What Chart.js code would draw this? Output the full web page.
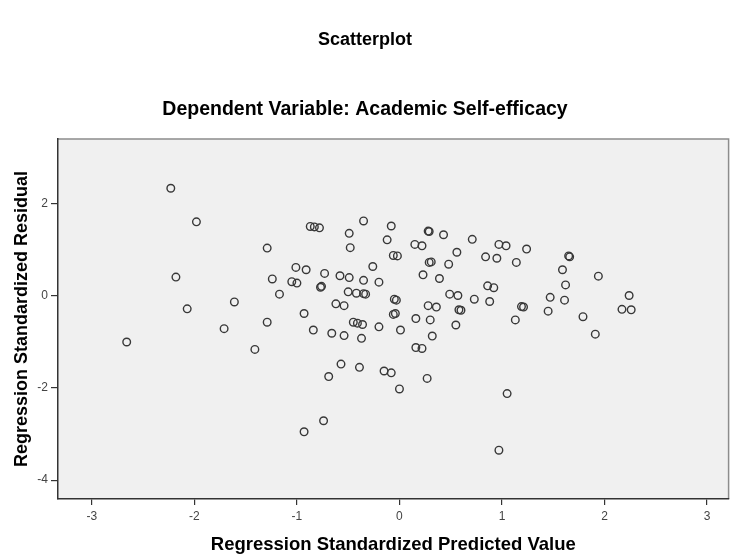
<!DOCTYPE html>
<html>
<head>
<meta charset="utf-8">
<script src="https://cdn.jsdelivr.net/npm/chart.js@4/dist/chart.umd.min.js"></script>
<style>
  html, body { margin: 0; padding: 0; background: #fff; }
  #wrap { width: 734px; height: 556px; }
</style>
</head>
<body>
<div id="wrap"><canvas id="chart1" width="734" height="556"></canvas></div>
<script>
// values
const predicted = [
  -2.23, -1.98, -2.18, -2.07, -1.61, -1.71, -2.66, -1.29, -1.24, -1.17,
  -1.29, -1.41, -1.05, -1.00, -1.01, -0.91, -0.87, -0.83, -0.78, -0.73,
  -0.77, -0.76, -0.93, -0.84, -0.66, -0.54, -0.62, -0.54, -0.58, -0.49,
  -0.35, -0.50, -0.42, -0.33, -0.35, -0.35, -0.49, -0.48, -0.26, -0.45,
  -0.41, -0.36, -0.37, -0.57, -0.39, -0.69, -0.74, -0.93, -0.20, -0.20,
  -0.15, -0.08, 0.00, 0.01, -0.08, -0.12, -0.06, -0.02, -0.03, -0.05,
  -0.06, -0.04, 0.16, 0.30, 0.32, 0.55, 0.16, 0.22, 0.27, 1.05,
  0.97, 0.29, 0.28, 0.43, 0.71, 0.97, 1.04, 0.15, 0.22, 0.56,
  0.84, 0.95, 0.29, 0.31, 0.48, 0.23, 0.39, 0.86, 0.92, 0.49,
  0.57, 0.73, 0.88, 0.28, 0.36, 0.58, 0.60, 1.24, 1.14, 1.65,
  1.66, 1.59, 1.94, 1.62, 1.47, 1.61, 2.24, 2.17, 2.26, 1.19,
  1.21, 1.45, 1.79, 1.13, 1.91
];
const residual = [
  2.34, 1.61, 0.41, -0.28, -0.13, -0.71, -1.00, 1.04, 0.37, 0.04,
  -0.57, -1.16, 0.31, 0.28, 0.62, 0.57, 1.51, 1.50, 1.48, 0.49,
  0.19, 0.21, -0.38, -0.74, -0.81, -0.86, -0.17, -0.21, 0.44, 0.40,
  0.34, 0.09, 0.06, 0.04, 0.05, 1.63, 1.36, 1.05, 0.64, -0.57,
  -0.59, -0.62, -0.92, -1.48, -1.55, -1.75, -2.71, -2.95, 0.30, -0.67,
  -1.63, -1.67, -2.02, -0.74, 1.52, 1.22, 0.88, 0.87, -0.09, -0.07,
  -0.40, -0.38, -0.49, -0.52, -0.87, -0.63, -1.12, -1.14, -1.79, -2.12,
  -3.35, 1.40, 1.41, 1.33, 1.23, 1.12, 1.09, 1.12, 1.09, 0.95,
  0.85, 0.82, 0.73, 0.74, 0.69, 0.46, 0.38, 0.22, 0.18, 0.04,
  0.01, -0.07, -0.12, -0.21, -0.24, -0.30, -0.31, 1.02, 0.73, 0.87,
  0.85, 0.57, 0.43, 0.24, -0.03, -0.09, 0.01, -0.29, -0.30, -0.23,
  -0.24, -0.33, -0.45, -0.52, -0.83
];
const xTicks = [-3, -2, -1, 0, 1, 2, 3];
const yTicks = [-4, -2, 0, 2];

const points = predicted.map((x, i) => ({ x: x, y: residual[i] }));

// grey plot background + light frame on top/right
const plotFrame = {
  id: 'plotFrame',
  beforeDraw(chart) {
    const { ctx, chartArea: a } = chart;
    ctx.save();
    ctx.fillStyle = '#f0f0f0';
    ctx.fillRect(a.left, a.top, a.width, a.height);
    ctx.strokeStyle = '#8c8c8c';
    ctx.lineWidth = 1.5;
    ctx.beginPath();
    ctx.moveTo(a.left, a.top);
    ctx.lineTo(a.right, a.top);
    ctx.lineTo(a.right, a.bottom);
    ctx.stroke();
    ctx.restore();
  }
};

const ctx1 = document.getElementById('chart1').getContext('2d');
const chart1 = new Chart(ctx1, {
  type: 'scatter',
  data: {
    datasets: [{
      label: 'Residual',
      data: points,
      pointStyle: 'circle',
      pointRadius: 3.8,
      pointBorderWidth: 1.4,
      borderColor: '#383838',
      backgroundColor: 'rgba(0,0,0,0)'
    }]
  },
  options: {
    responsive: false,
    animation: false,
    devicePixelRatio: 1,
    layout: { padding: { right: 4 } },
    plugins: {
      legend: { display: false },
      tooltip: { enabled: false },
      title: {
        display: true,
        text: 'Scatterplot',
        color: '#000',
        font: { family: 'Liberation Sans, Arial, sans-serif', size: 18, weight: 'bold' },
        padding: { top: 29, bottom: 0 }
      },
      subtitle: {
        display: true,
        text: 'Dependent Variable: Academic Self-efficacy',
        color: '#000',
        font: { family: 'Liberation Sans, Arial, sans-serif', size: 19.5, weight: 'bold' },
        padding: { top: 47.7, bottom: 17.3 }
      }
    },
    scales: {
      x: {
        type: 'linear',
        min: -3.33,
        max: 3.21,
        afterFit: s => { s.height = 57; },
        afterBuildTicks: s => { s.ticks = xTicks.map(v => ({ value: v })); },
        border: { display: true, color: '#333', width: 1.5 },
        grid: { drawOnChartArea: false, drawTicks: true, tickLength: 6, color: '#333', lineWidth: 1.2 },
        ticks: { color: '#444', padding: 4, font: { family: 'Liberation Sans, Arial, sans-serif', size: 12 } },
        title: {
          display: true,
          text: 'Regression Standardized Predicted Value',
          color: '#000',
          font: { family: 'Liberation Sans, Arial, sans-serif', size: 18.5, weight: 'bold' },
          padding: { top: 0, bottom: 0 }
        }
      },
      y: {
        type: 'linear',
        min: -4.41,
        max: 3.41,
        afterFit: s => { s.width = 58; },
        afterBuildTicks: s => { s.ticks = yTicks.map(v => ({ value: v })); },
        border: { display: true, color: '#333', width: 1.5 },
        grid: { drawOnChartArea: false, drawTicks: true, tickLength: 7, color: '#333', lineWidth: 1.2 },
        ticks: { color: '#444', padding: 3, font: { family: 'Liberation Sans, Arial, sans-serif', size: 12 } },
        title: {
          display: true,
          text: 'Regression Standardized Residual',
          color: '#000',
          font: { family: 'Liberation Sans, Arial, sans-serif', size: 18, weight: 'bold' },
          padding: { top: 11, bottom: 0 }
        }
      }
    }
  },
  plugins: [plotFrame]
});
</script>
</body>
</html>
